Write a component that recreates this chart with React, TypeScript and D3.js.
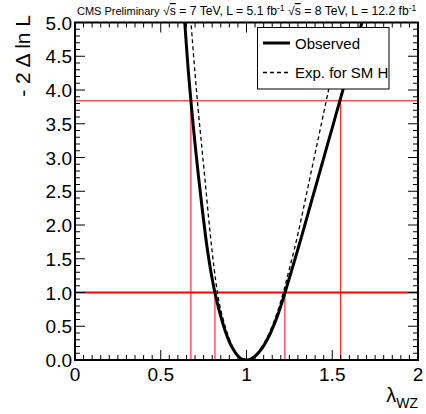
import React from "react";
import * as d3 from "d3";

const obsLambda = [0.62,0.64,0.66,0.68,0.70,0.72,0.74,0.76,0.78,0.80,0.82,0.84,0.86,0.88,0.90,0.92,0.94,0.96,0.98,1.00,1.02,1.04,1.06,1.08,1.10,1.12,1.14,1.16,1.18,1.20,1.22,1.24,1.26,1.28,1.30,1.32,1.34,1.36,1.38,1.40,1.42,1.44,1.46,1.48,1.50,1.52,1.54,1.56,1.58,1.60,1.62,1.64,1.66,1.68,1.70];
const obsValues = [5.7,5.0,4.3,3.72,3.2,2.72,2.28,1.86,1.5,1.2,0.95,0.74,0.56,0.40,0.27,0.17,0.09,0.035,0.008,0.0,0.01,0.036,0.08,0.14,0.21,0.30,0.40,0.52,0.65,0.80,0.96,1.13,1.30,1.47,1.645,1.82,2.0,2.18,2.36,2.54,2.72,2.9,3.08,3.26,3.44,3.62,3.80,3.98,4.16,4.34,4.52,4.7,4.88,5.06,5.24];

const expLambda = [0.64,0.66,0.68,0.70,0.72,0.74,0.76,0.78,0.80,0.82,0.84,0.86,0.88,0.90,0.92,0.94,0.96,0.98,0.99,1.00,1.02,1.04,1.06,1.08,1.10,1.12,1.14,1.16,1.18,1.20,1.22,1.24,1.26,1.28,1.30,1.32,1.34,1.36,1.38,1.40,1.42,1.44,1.46,1.48,1.50,1.52,1.54,1.56,1.58,1.60];
const expValues = [6.2,5.55,4.88,4.24,3.66,3.14,2.62,2.08,1.6,1.18,0.86,0.64,0.46,0.31,0.19,0.1,0.035,0.005,0.0,0.002,0.018,0.05,0.097,0.16,0.24,0.33,0.44,0.57,0.71,0.87,1.05,1.25,1.45,1.65,1.87,2.1,2.34,2.58,2.82,3.06,3.3,3.54,3.78,4.02,4.26,4.5,4.74,4.98,5.2,5.44];

const thresholds = [1.0, 3.84];
const crossings68 = [0.816, 1.224];
const crossings95 = [0.676, 1.549];

const xTicks = [0, 0.5, 1, 1.5, 2];
const xTickLabels = ["0", "0.5", "1", "1.5", "2"];
const yTicks = [0, 0.5, 1, 1.5, 2, 2.5, 3, 3.5, 4, 4.5, 5];
const yTickLabels = ["0.0", "0.5", "1.0", "1.5", "2.0", "2.5", "3.0", "3.5", "4.0", "4.5", "5.0"];

const legendLabels = ["Observed", "Exp. for SM H"];

const W = 426, H = 414;
const L = 75, R = 418, T = 22.5, B = 360;

export default function App() {
  const x = d3.scaleLinear().domain([0, 2]).range([L, R]);
  const y = d3.scaleLinear().domain([0, 5]).range([B, T]);
  const line = d3.line<[number, number]>()
    .x(d => x(d[0]))
    .y(d => y(d[1]))
    .curve(d3.curveMonotoneX);
  const obsPath = line(obsLambda.map((l, i) => [l, obsValues[i]]) as [number, number][]) || "";
  const expPath = line(expLambda.map((l, i) => [l, expValues[i]]) as [number, number][]) || "";

  const font = "Liberation Sans, Arial, Helvetica, sans-serif";

  const xMinor = d3.range(0, 41).map(i => i * 0.05);
  const yMinor = d3.range(0, 51).map(i => i * 0.1);
  const isMajor = (v: number) => Math.abs(v * 2 - Math.round(v * 2)) < 1e-6;

  const majLen = 10, minLen = 5;

  return (
    <svg width={W} height={H} style={{ position: "absolute", left: 0, top: 0, background: "#fff" }} fontFamily={font}>
      <defs>
        <clipPath id="plotclip">
          <rect x={L} y={T} width={R - L} height={B - T} />
        </clipPath>
      </defs>
      <rect x={0} y={0} width={W} height={H} fill="#fff" />

      {/* red lines */}
      <line x1={L} x2={R} y1={y(thresholds[1])} y2={y(thresholds[1])} stroke="#ff0000" strokeWidth={1} />
      <line x1={L} x2={R} y1={y(thresholds[0])} y2={y(thresholds[0])} stroke="#ff0000" strokeWidth={2} />
      {crossings95.map((c, i) => (
        <line key={"c95" + i} x1={x(c)} x2={x(c)} y1={y(thresholds[1])} y2={B} stroke="#ff0000" strokeWidth={1} />
      ))}
      {crossings68.map((c, i) => (
        <line key={"c68" + i} x1={x(c)} x2={x(c)} y1={y(thresholds[0])} y2={B} stroke="#ff0000" strokeWidth={1} />
      ))}

      {/* curves */}
      <g clipPath="url(#plotclip)">
        <path d={expPath} fill="none" stroke="#000" strokeWidth={1.3} strokeDasharray="4,3" />
        <path d={obsPath} fill="none" stroke="#000" strokeWidth={3} />
      </g>

      {/* ticks */}
      {xMinor.map((v, i) => {
        const len = isMajor(v) ? majLen : minLen;
        const xx = x(v);
        return (
          <g key={"xt" + i} stroke="#000" strokeWidth={1}>
            <line x1={xx} x2={xx} y1={B} y2={B - len} />
            <line x1={xx} x2={xx} y1={T} y2={T + len} />
          </g>
        );
      })}
      {yMinor.map((v, i) => {
        const len = isMajor(v) ? majLen : minLen;
        const yy = y(v);
        return (
          <g key={"yt" + i} stroke="#000" strokeWidth={1}>
            <line x1={L} x2={L + len} y1={yy} y2={yy} />
            <line x1={R} x2={R - len} y1={yy} y2={yy} />
          </g>
        );
      })}

      {/* frame */}
      <rect x={L} y={T} width={R - L} height={B - T} fill="none" stroke="#000" strokeWidth={2} />

      {/* legend */}
      <rect x={257.5} y={27.5} width={131.5} height={61.5} fill="#fff" stroke="#000" strokeWidth={1} />
      <line x1={263} x2={290} y1={43} y2={43} stroke="#000" strokeWidth={3} />
      <text x={295} y={48.5} fontSize={15} fill="#000">{legendLabels[0]}</text>
      <line x1={263} x2={290} y1={72.5} y2={72.5} stroke="#000" strokeWidth={1.3} strokeDasharray="4,3" />
      <text x={295} y={78} fontSize={15} fill="#000">{legendLabels[1]}</text>

      {/* tick labels */}
      {xTicks.map((v, i) => (
        <text key={"xl" + i} x={x(v)} y={381} fontSize={19} textAnchor="middle" fill="#000">{xTickLabels[i]}</text>
      ))}
      {yTicks.map((v, i) => (
        <text key={"yl" + i} x={72} y={y(v) + 7} fontSize={19} textAnchor="end" fill="#000">{yTickLabels[i]}</text>
      ))}

      {/* axis titles */}
      <text transform="translate(30,15) rotate(-90)" fontSize={21} textAnchor="end" fill="#000">- 2 Δ ln L</text>
      <text x={418} y={402} fontSize={20} textAnchor="end" fill="#000">
        λ<tspan fontSize={14} dy={6}>WZ</tspan>
      </text>

      {/* header */}
      <text x={77} y={15} fontSize={11} fill="#000">CMS Preliminary</text>
      <text x={163} y={15} fontSize={12.2} fill="#000">
        √<tspan style={{ textDecoration: "overline" }}>s</tspan> = 7 TeV, L = 5.1 fb<tspan fontSize={8.5} dy={-4.5}>-1</tspan>
      </text>
      <text x={288} y={15} fontSize={12.2} fill="#000">
        √<tspan style={{ textDecoration: "overline" }}>s</tspan> = 8 TeV, L = 12.2 fb<tspan fontSize={8.5} dy={-4.5}>-1</tspan>
      </text>
    </svg>
  );
}
